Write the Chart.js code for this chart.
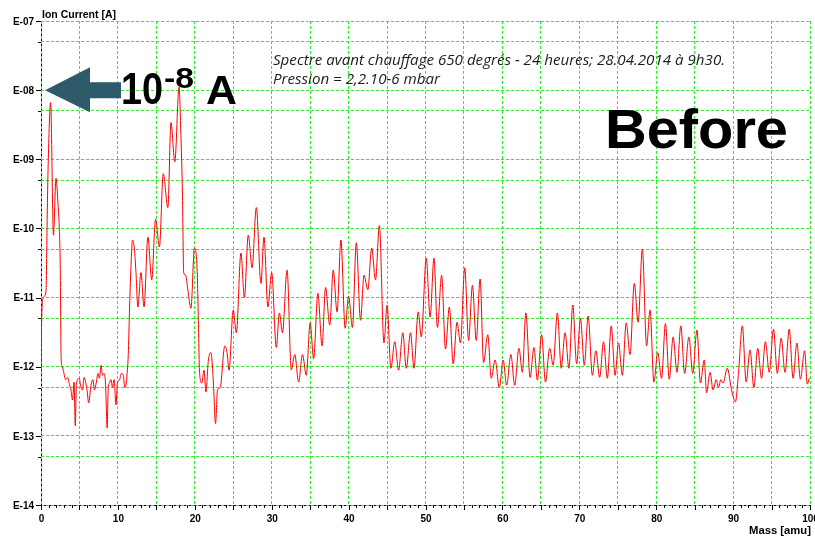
<!DOCTYPE html>
<html>
<head>
<meta charset="utf-8">
<script src="https://cdn.jsdelivr.net/npm/chart.js@4.4.1/dist/chart.umd.min.js"></script>
<style>
  html, body { margin: 0; padding: 0; background: #ffffff; }
  #c { display: block; }
</style>
</head>
<body>
<canvas id="c" width="815" height="536"></canvas>
<script>
// Mass axis positions (amu) of the sampled spectrum
const masses = [
  0.0, 0.08, 0.3, 0.65, 0.82, 0.95, 1.25, 1.62, 1.95, 2.2, 2.38, 2.5, 2.62, 2.75,
  2.9, 3.2, 3.46, 3.7, 3.9, 4.1, 4.3, 4.46, 4.6, 4.96, 5.2, 5.4, 5.6, 5.8, 6.0, 6.2,
  6.5, 6.75, 6.95, 7.2, 7.4, 7.6, 7.8, 8.0, 8.2, 8.4, 8.6, 8.75, 8.9, 9.1, 9.3, 9.5,
  9.75, 9.95, 10.2, 10.45, 10.7, 10.9, 11.05, 11.2, 11.35, 11.5, 11.7, 11.9, 12.15,
  12.35, 12.6, 13.0, 13.4, 13.9, 14.4, 14.9, 15.4, 15.9, 16.5, 16.9, 17.4, 17.95,
  18.2, 18.4, 18.55, 18.8, 19.1, 19.5, 19.95, 20.3, 20.5, 20.6, 20.9, 21.2, 21.45,
  21.75, 22.1, 22.4, 22.7, 22.95, 23.3, 23.9, 24.2, 24.45, 25.0, 25.4, 26.0, 26.45,
  26.95, 27.45, 28.0, 28.6, 29.0, 29.5, 30.0, 30.6, 31.0, 31.4, 32.0, 32.55, 33.0,
  33.5, 34.0, 34.5, 35.0, 35.45, 36.0, 36.55, 37.0, 37.55, 38.0, 38.5, 39.0, 39.55,
  40.0, 40.5, 41.0, 41.55, 42.0, 42.5, 43.0, 43.5, 44.0, 44.6, 45.0, 45.5, 46.0,
  46.5, 47.05, 47.5, 48.05, 48.5, 49.05, 49.45, 50.1, 50.6, 51.1, 51.55, 52.1, 52.6,
  53.1, 53.6, 54.1, 54.55, 55.1, 55.6, 56.1, 56.6, 57.1, 57.55, 58.1, 58.55, 59.05,
  59.6, 60.1, 60.55, 61.1, 61.6, 62.15, 62.6, 63.05, 63.6, 64.1, 64.55, 65.1, 65.6,
  66.15, 66.6, 67.15, 67.65, 68.15, 68.65, 69.15, 69.65, 70.15, 70.65, 71.15, 71.7,
  72.15, 72.65, 73.15, 73.65, 74.15, 74.65, 75.1, 75.6, 76.1, 76.6, 77.15, 77.65,
  78.2, 78.75, 79.2, 79.7, 80.2, 80.7, 81.2, 81.7, 82.2, 82.7, 83.2, 83.7, 84.25,
  84.75, 85.3, 85.75, 86.25, 86.55, 87.0, 87.4, 87.8, 88.1, 88.4, 88.7, 89.25, 89.8,
  90.3, 90.7, 91.2, 91.7, 92.2, 92.7, 93.2, 93.7, 94.2, 94.7, 95.25, 95.75, 96.25,
  96.75, 97.3, 97.8, 98.3, 98.75, 99.3, 99.65, 99.9
];

// Ion current (A) at each mass position
const currents = [
  8.0e-13, 4.3e-12, 1.0e-11, 1.25e-11, 1.85e-10, 1.0e-9, 6.6e-9, 8.0e-11, 5.3e-10, 2.4e-10, 1.0e-10, 3.0e-11, 1.3e-12, 1.0e-12,
  8.9e-13, 6.5e-13, 7.0e-13, 5.5e-13, 4.6e-13, 3.3e-13, 6.0e-13, 1.4e-13, 5.5e-13, 6.8e-13, 5.0e-13, 4.6e-13, 7.0e-13, 6.0e-13, 4.5e-13, 3.0e-13,
  5.4e-13, 6.5e-13, 4.6e-13, 6.0e-13, 8.0e-13, 6.8e-13, 1.05e-12, 7.5e-13, 8.0e-13, 5.5e-13, 1.3e-13, 5.0e-13, 5.8e-13, 6.5e-13, 5.0e-13, 6.5e-13,
  2.8e-13, 6.0e-13, 6.4e-13, 8.0e-13, 7.5e-13, 5.0e-13, 5.4e-13, 8.0e-13, 1.5e-12, 6.0e-12, 2.8e-11, 6.8e-11, 5.0e-11,
  2.3e-11, 7.3e-12, 2.3e-11, 7.3e-12, 7.5e-11, 1.8e-11, 1.35e-10, 5.4e-11, 6.2e-10, 2.0e-10, 3.4e-9, 9.2e-10, 1.1e-8,
  2.1e-9, 2.9e-10, 2.3e-11, 2.1e-11, 1.3e-11, 7.0e-12, 5.2e-11, 2.6e-11, 3.0e-12, 9.0e-13, 5.8e-13, 8.9e-13, 4.3e-13,
  1.2e-12, 1.6e-12, 6.4e-13, 1.5e-13, 4.6e-13, 5.0e-13, 2.0e-12, 1.6e-12, 8.9e-13, 6.6e-12, 3.1e-12, 4.4e-11, 1.0e-11,
  8.0e-11, 2.7e-11, 2.0e-10, 1.6e-11, 7.5e-11, 7.3e-12, 2.3e-11, 1.9e-12, 6.0e-12, 3.1e-12, 2.5e-11, 9.0e-13, 1.5e-12,
  6.0e-13, 1.5e-12, 7.5e-13, 4.3e-12, 1.3e-12, 1.15e-11, 2.0e-12, 1.4e-11, 4.0e-12, 2.5e-11, 6.2e-12, 6.8e-11, 3.6e-12,
  1.05e-11, 3.7e-12, 6.2e-11, 4.7e-12, 2.1e-11, 1.3e-11, 5.2e-11, 1.8e-11, 1.1e-10, 2.2e-12, 7.8e-12, 9.5e-13, 2.3e-12,
  8.9e-13, 3.1e-12, 9.5e-13, 3.1e-12, 9.5e-13, 6.2e-12, 2.7e-12, 3.7e-11, 5.2e-12, 3.7e-11, 3.7e-12, 2.1e-11, 1.8e-12,
  7.3e-12, 1.1e-12, 4.4e-12, 2.2e-12, 2.7e-11, 2.4e-12, 1.5e-11, 2.4e-12, 1.85e-11, 1.15e-12, 2.9e-12, 6.8e-13, 1.25e-12,
  5.0e-13, 1.25e-12, 5.4e-13, 1.5e-12, 5.4e-13, 1.85e-12, 8.3e-13, 6.0e-12, 7.0e-13, 1.9e-12, 6.4e-13, 2.9e-12, 6.0e-13,
  1.85e-12, 1.05e-12, 6.0e-12, 9.5e-13, 3.1e-12, 9.5e-13, 7.8e-12, 1.1e-12, 5.0e-12, 1.05e-12, 5.4e-12, 7.5e-13,
  1.7e-12, 7.0e-13, 2.3e-12, 6.8e-13, 3.9e-12, 7.5e-13, 2.2e-12, 7.5e-13, 4.3e-12, 1.5e-12, 1.6e-11, 4.4e-12,
  5.0e-11, 2.0e-12, 6.6e-12, 6.0e-13, 1.6e-12, 6.8e-13, 4.2e-12, 6.6e-13, 2.7e-12, 8.3e-13, 3.9e-12, 8.0e-13, 2.7e-12,
  8.0e-13, 3.4e-12, 5.8e-13, 1.25e-12, 4.2e-13, 8.3e-13, 4.6e-13, 6.5e-13, 5.0e-13, 6.5e-13, 5.8e-13, 9.5e-13, 4.6e-13,
  3.1e-13, 8.0e-13, 3.9e-12, 6.0e-13, 1.75e-12, 5.0e-13, 1.85e-12, 6.8e-13, 2.3e-12, 8.3e-13, 3.5e-12, 8.0e-13, 2.6e-12,
  8.3e-13, 3.5e-12, 6.8e-13, 2.2e-12, 6.6e-13, 1.7e-12, 5.6e-13, 6.8e-13
];

// Labelled decades on the current axis, plus the 5x lines between them
const yDecadeValues = [1e-14, 1e-13, 1e-12, 1e-11, 1e-10, 1e-9, 1e-8, 1e-7];
const yDecadeLabels = ['E-14', 'E-13', 'E-12', 'E-11', 'E-10', 'E-09', 'E-08', 'E-07'];
const yHalfValues = [5e-14, 5e-13, 5e-12, 5e-11, 5e-10, 5e-9, 5e-8];
const xTickLabels = [0, 10, 20, 30, 40, 50, 60, 70, 80, 90, 100];

const GRID_GREEN = '#2cec2c';
const LABEL_FONT = '"Liberation Sans", Arial, sans-serif';

function fitText(ctx, text, x, y, font, width, align) {
  ctx.font = font;
  const w = ctx.measureText(text).width;
  const sx = width ? width / w : 1;
  ctx.save();
  ctx.translate(x, y);
  ctx.scale(sx, 1);
  ctx.textAlign = align || 'left';
  ctx.fillText(text, 0, 0);
  ctx.restore();
  return w * sx;
}

const axisDecor = {
  id: 'axisDecor',
  beforeDraw(chart) {
    const { ctx, chartArea: a } = chart;
    ctx.save();
    ctx.fillStyle = '#ffffff';
    ctx.fillRect(0, 0, chart.width, chart.height);
    ctx.strokeStyle = '#000000';
    ctx.lineWidth = 1;
    ctx.beginPath();
    ctx.moveTo(a.left + 0.5, a.top);
    ctx.lineTo(a.left + 0.5, a.bottom + 1);
    ctx.moveTo(a.left, a.bottom + 0.5);
    ctx.lineTo(a.right + 1, a.bottom + 0.5);
    ctx.stroke();
    ctx.restore();
  },
  afterDraw(chart) {
    const { ctx, chartArea: a } = chart;
    const xs = chart.scales.x, ys = chart.scales.y;
    ctx.save();
    ctx.strokeStyle = '#000000';
    ctx.lineWidth = 1;
    ctx.beginPath();
    // current axis tick marks
    yDecadeValues.forEach(v => {
      const y = Math.round(ys.getPixelForValue(v)) + 0.5;
      ctx.moveTo(a.left - 5, y); ctx.lineTo(a.left, y);
    });
    yHalfValues.forEach(v => {
      const y = Math.round(ys.getPixelForValue(v)) + 0.5;
      ctx.moveTo(a.left - 3, y); ctx.lineTo(a.left, y);
    });
    // mass axis tick marks, one per amu
    for (let m = 0; m <= 100; m++) {
      const x = Math.round(xs.getPixelForValue(m)) + 0.5;
      const len = (m % 5 === 0) ? 5 : 3;
      ctx.moveTo(x, a.bottom); ctx.lineTo(x, a.bottom + len);
    }
    ctx.stroke();

    ctx.fillStyle = '#000000';
    ctx.textBaseline = 'middle';
    yDecadeValues.forEach((v, i) => {
      const y = ys.getPixelForValue(v);
      fitText(ctx, yDecadeLabels[i], a.left - 7, y + 1, 'bold 10px ' + LABEL_FONT, 0, 'right');
    });
    ctx.textBaseline = 'alphabetic';
    xTickLabels.forEach(m => {
      const x = xs.getPixelForValue(m);
      fitText(ctx, String(m), x + 0.5, a.bottom + 17, 'bold 10px ' + LABEL_FONT, 0, 'center');
    });
    fitText(ctx, 'Ion Current [A]', a.left + 1, 18, 'bold 10.5px ' + LABEL_FONT, 74, 'left');
    fitText(ctx, 'Mass [amu]', a.right + 1, 534, 'bold 11px ' + LABEL_FONT, 62, 'right');

    // note on the acquisition
    ctx.fillStyle = '#1c1c1c';
    const s1 = 'Spectre avant chauffage 650 degrés - 24 heures; 28.04.2014 à 9h30.';
    const s2 = 'Pression = 2,2.10-6 mbar';
    ctx.font = 'italic 14px "Open Sans", sans-serif';
    const k = 452 / ctx.measureText(s1).width;
    fitText(ctx, s1, 273, 65, 'italic 14px "Open Sans", sans-serif', 452, 'left');
    ctx.font = 'italic 14px "Open Sans", sans-serif';
    const w2 = ctx.measureText(s2).width * k;
    fitText(ctx, s2, 273, 84, 'italic 14px "Open Sans", sans-serif', w2, 'left');

    // arrow pointing at the 1e-8 A level
    const yArrow = ys.getPixelForValue(1e-8);
    const tipX = a.left + 4;
    ctx.fillStyle = '#2f5a69';
    ctx.beginPath();
    ctx.moveTo(tipX, yArrow);
    ctx.lineTo(90, yArrow - 23);
    ctx.lineTo(90, yArrow - 8);
    ctx.lineTo(121, yArrow - 8);
    ctx.lineTo(121, yArrow + 8);
    ctx.lineTo(90, yArrow + 8);
    ctx.lineTo(90, yArrow + 22);
    ctx.closePath();
    ctx.fill();

    ctx.fillStyle = '#000000';
    const bigFont = 'bold 44px ' + LABEL_FONT;
    fitText(ctx, '10', 121, 104, bigFont, 42, 'left');
    fitText(ctx, '-8', 164, 88, 'bold 29px ' + LABEL_FONT, 30, 'left');
    fitText(ctx, 'A', 206, 104, 'bold 40px ' + LABEL_FONT, 31, 'left');

    fitText(ctx, 'Before', 605, 148, 'bold 56px ' + LABEL_FONT, 183, 'left');
    ctx.restore();
  }
};

const points = masses.map((m, i) => ({ x: m, y: currents[i] }));

new Chart(document.getElementById('c').getContext('2d'), {
  type: 'line',
  data: {
    datasets: [{
      data: points,
      borderColor: '#ff0000',
      borderWidth: 1,
      pointRadius: 0,
      fill: false,
      cubicInterpolationMode: 'monotone'
    }]
  },
  options: {
    responsive: false,
    animation: false,
    devicePixelRatio: 1,
    layout: { padding: { left: 41, right: 5, top: 21, bottom: 31 } },
    plugins: { legend: { display: false }, tooltip: { enabled: false } },
    scales: {
      x: {
        type: 'linear', min: 0, max: 100,
        ticks: { display: false, stepSize: 5 },
        grid: { color: GRID_GREEN, lineWidth: 1, drawTicks: false },
        border: { display: false, dash: [3, 2] }
      },
      y: {
        type: 'logarithmic', min: 1e-14, max: 1e-7,
        afterBuildTicks: scale => {
          scale.ticks = yDecadeValues.concat(yHalfValues).sort((p, q) => p - q).map(v => ({ value: v }));
        },
        ticks: { display: false },
        grid: { color: GRID_GREEN, lineWidth: 1, drawTicks: false },
        border: { display: false, dash: [3, 2] }
      }
    }
  },
  plugins: [axisDecor]
});
</script>
</body>
</html>
